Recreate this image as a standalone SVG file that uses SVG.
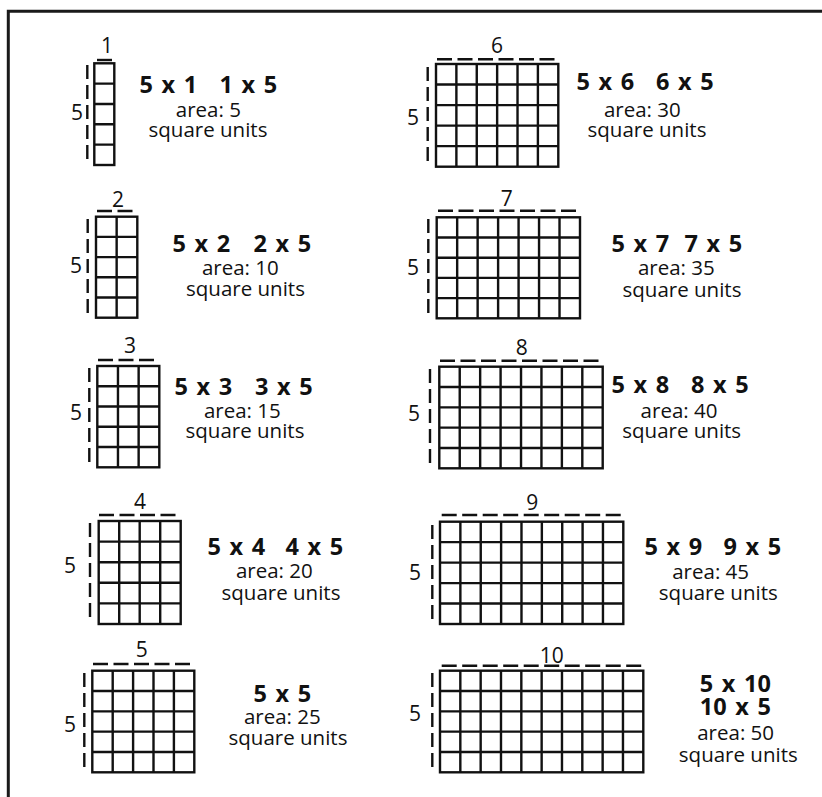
<svg xmlns="http://www.w3.org/2000/svg" width="822" height="797" viewBox="0 0 822 797">
<style>
.g{fill:none;stroke:#111;stroke-width:2.4}
.dh{fill:none;stroke:#111;stroke-width:2.4;stroke-dasharray:15 5.5}
.dv{fill:none;stroke:#111;stroke-width:2.4;stroke-dasharray:14 6}
text{font-family:"Open Sans","Noto Sans","Liberation Sans",sans-serif;fill:#111}
.eq{font-size:23.5px;font-weight:bold;word-spacing:2.5px}
.t{font-size:20.5px;font-weight:500;text-anchor:middle}
.n{font-size:21px;font-weight:500;text-anchor:middle}
</style>
<rect width="822" height="797" fill="#fff"/>
<path d="M7 11.3H822M8.3 9.8V797" stroke="#1a1a1a" stroke-width="3" fill="none"/>
<g id="connectors"/>

<g id="grid1">
<rect class="g" x="94.3" y="63.3" width="20" height="101.7"/>
<path class="g" d="M94.3 83.64h20m-20 20.34h20m-20 20.34h20m-20 20.34h20"/>
<path class="dh" d="M97 60H112"/>
<path class="dv" d="M87.3 65V163"/>
<text class="n" x="107" y="53">1</text>
<text class="n" x="77" y="120">5</text>
<text class="t"><tspan class="eq" x="171" y="92.7">5 x 1</tspan> <tspan class="eq" x="251" y="92.7">1 x 5</tspan> <tspan x="211" y="116.7">area: 5</tspan> <tspan x="208" y="136.7">square units</tspan></text>
</g>

<g id="grid2">
<rect class="g" x="96" y="216.7" width="41.3" height="101"/>
<path class="g" d="M96 236.9h41.3m-41.3 20.2h41.3m-41.3 20.2h41.3m-41.3 20.2h41.3M116.65 216.7v101"/>
<path class="dh" d="M97 211H135"/>
<path class="dv" d="M87.7 219V316"/>
<text class="n" x="118" y="207">2</text>
<text class="n" x="76" y="273">5</text>
<text class="t"><tspan class="eq" x="204" y="251.7">5 x 2</tspan> <tspan class="eq" x="285" y="251.7">2 x 5</tspan> <tspan x="243" y="275">area: 10</tspan> <tspan x="245.5" y="296">square units</tspan></text>
</g>

<g id="grid3">
<rect class="g" x="97.3" y="366" width="62" height="101.3"/>
<path class="g" d="M97.3 386.26h62m-62 20.26h62m-62 20.26h62m-62 20.26h62M117.97 366v101.3m20.67 -101.3v101.3"/>
<path class="dh" d="M98 360H155"/>
<path class="dv" d="M89.3 368V467"/>
<text class="n" x="130" y="353">3</text>
<text class="n" x="76" y="420">5</text>
<text class="t"><tspan class="eq" x="206" y="395">5 x 3</tspan> <tspan class="eq" x="286.5" y="395">3 x 5</tspan> <tspan x="245" y="418">area: 15</tspan> <tspan x="245" y="438">square units</tspan></text>
</g>

<g id="grid4">
<rect class="g" x="98.7" y="521" width="82" height="103"/>
<path class="g" d="M98.7 541.6h82m-82 20.6h82m-82 20.6h82m-82 20.6h82M119.2 521v103m20.5 -103v103m20.5 -103v103"/>
<path class="dh" d="M99 515H178"/>
<path class="dv" d="M90 523V622"/>
<text class="n" x="140" y="509">4</text>
<text class="n" x="70" y="572.7">5</text>
<text class="t"><tspan class="eq" x="239" y="555">5 x 4</tspan> <tspan class="eq" x="317" y="555">4 x 5</tspan> <tspan x="277" y="578">area: 20</tspan> <tspan x="281" y="600">square units</tspan></text>
</g>

<g id="grid5">
<rect class="g" x="92.3" y="670.7" width="102" height="101.6"/>
<path class="g" d="M92.3 691.02h102m-102 20.32h102m-102 20.32h102m-102 20.32h102M112.7 670.7v101.6m20.4 -101.6v101.6m20.4 -101.6v101.6m20.4 -101.6v101.6"/>
<path class="dh" d="M93 664H193"/>
<path class="dv" d="M84.3 673V770.7"/>
<text class="n" x="141.7" y="656.7">5</text>
<text class="n" x="70" y="731.7">5</text>
<text class="t"><tspan class="eq" x="285" y="701.7">5 x 5</tspan> <tspan x="285" y="724">area: 25</tspan> <tspan x="288" y="745">square units</tspan></text>
</g>

<g id="grid6">
<rect class="g" x="436" y="64" width="122.3" height="102.7"/>
<path class="g" d="M436 84.54h122.3m-122.3 20.54h122.3m-122.3 20.54h122.3m-122.3 20.54h122.3M456.38 64v102.7m20.38 -102.7v102.7m20.38 -102.7v102.7m20.38 -102.7v102.7m20.38 -102.7v102.7"/>
<path class="dh" d="M437 59.3H557"/>
<path class="dv" d="M427.7 67V167"/>
<text class="n" x="497" y="53">6</text>
<text class="n" x="413" y="125">5</text>
<text class="t"><tspan class="eq" x="608" y="90">5 x 6</tspan> <tspan class="eq" x="687.5" y="90">6 x 5</tspan> <tspan x="645" y="117">area: 30</tspan> <tspan x="647" y="137">square units</tspan></text>
</g>

<g id="grid7">
<rect class="g" x="436.7" y="217.3" width="143.3" height="101"/>
<path class="g" d="M436.7 237.5h143.3m-143.3 20.2h143.3m-143.3 20.2h143.3m-143.3 20.2h143.3M457.17 217.3v101m20.47 -101v101m20.47 -101v101m20.47 -101v101m20.47 -101v101m20.47 -101v101"/>
<path class="dh" d="M438 210.7H578"/>
<path class="dv" d="M428.3 219V316.7"/>
<text class="n" x="506.7" y="206">7</text>
<text class="n" x="413" y="275">5</text>
<text class="t"><tspan class="eq" x="643" y="251.7">5 x 7</tspan> <tspan class="eq" x="716" y="251.7">7 x 5</tspan> <tspan x="679" y="275">area: 35</tspan> <tspan x="682" y="296.7">square units</tspan></text>
</g>

<g id="grid8">
<rect class="g" x="439.3" y="366.7" width="163.4" height="101.6"/>
<path class="g" d="M439.3 387.02h163.4m-163.4 20.32h163.4m-163.4 20.32h163.4m-163.4 20.32h163.4M459.73 366.7v101.6m20.43 -101.6v101.6m20.43 -101.6v101.6m20.43 -101.6v101.6m20.43 -101.6v101.6m20.43 -101.6v101.6m20.43 -101.6v101.6"/>
<path class="dh" d="M440 360.7H601.7"/>
<path class="dv" d="M430 369V466.7"/>
<text class="n" x="521.7" y="355">8</text>
<text class="n" x="414" y="420.7">5</text>
<text class="t"><tspan class="eq" x="643" y="393.3">5 x 8</tspan> <tspan class="eq" x="722.5" y="393.3">8 x 5</tspan> <tspan x="681.7" y="418.3">area: 40</tspan> <tspan x="681.7" y="438.3">square units</tspan></text>
</g>

<g id="grid9">
<rect class="g" x="440" y="521.7" width="183.3" height="102.3"/>
<path class="g" d="M440 542.16h183.3m-183.3 20.46h183.3m-183.3 20.46h183.3m-183.3 20.46h183.3M460.37 521.7v102.3m20.37 -102.3v102.3m20.37 -102.3v102.3m20.37 -102.3v102.3m20.37 -102.3v102.3m20.37 -102.3v102.3m20.37 -102.3v102.3m20.37 -102.3v102.3"/>
<path class="dh" d="M441.7 515H625"/>
<path class="dv" d="M432.3 525V623.3"/>
<text class="n" x="532.3" y="510">9</text>
<text class="n" x="415" y="580">5</text>
<text class="t"><tspan class="eq" x="676" y="555">5 x 9</tspan> <tspan class="eq" x="755" y="555">9 x 5</tspan> <tspan x="713.3" y="579">area: 45</tspan> <tspan x="718.3" y="600">square units</tspan></text>
</g>

<g id="grid10">
<rect class="g" x="440" y="670.7" width="203.3" height="101.6"/>
<path class="g" d="M440 691.02h203.3m-203.3 20.32h203.3m-203.3 20.32h203.3m-203.3 20.32h203.3M460.33 670.7v101.6m20.33 -101.6v101.6m20.33 -101.6v101.6m20.33 -101.6v101.6m20.33 -101.6v101.6m20.33 -101.6v101.6m20.33 -101.6v101.6m20.33 -101.6v101.6m20.33 -101.6v101.6"/>
<path class="dh" d="M441.7 665.7H645"/>
<path class="dv" d="M432.3 673V770"/>
<text class="n" x="551.7" y="662.7">10</text>
<text class="n" x="415" y="720.7">5</text>
<text class="t"><tspan class="eq" x="738" y="691.7">5 x 10</tspan> <tspan class="eq" x="738" y="715">10 x 5</tspan> <tspan x="738.3" y="740">area: 50</tspan> <tspan x="738.3" y="761.7">square units</tspan></text>
</g>
</svg>
